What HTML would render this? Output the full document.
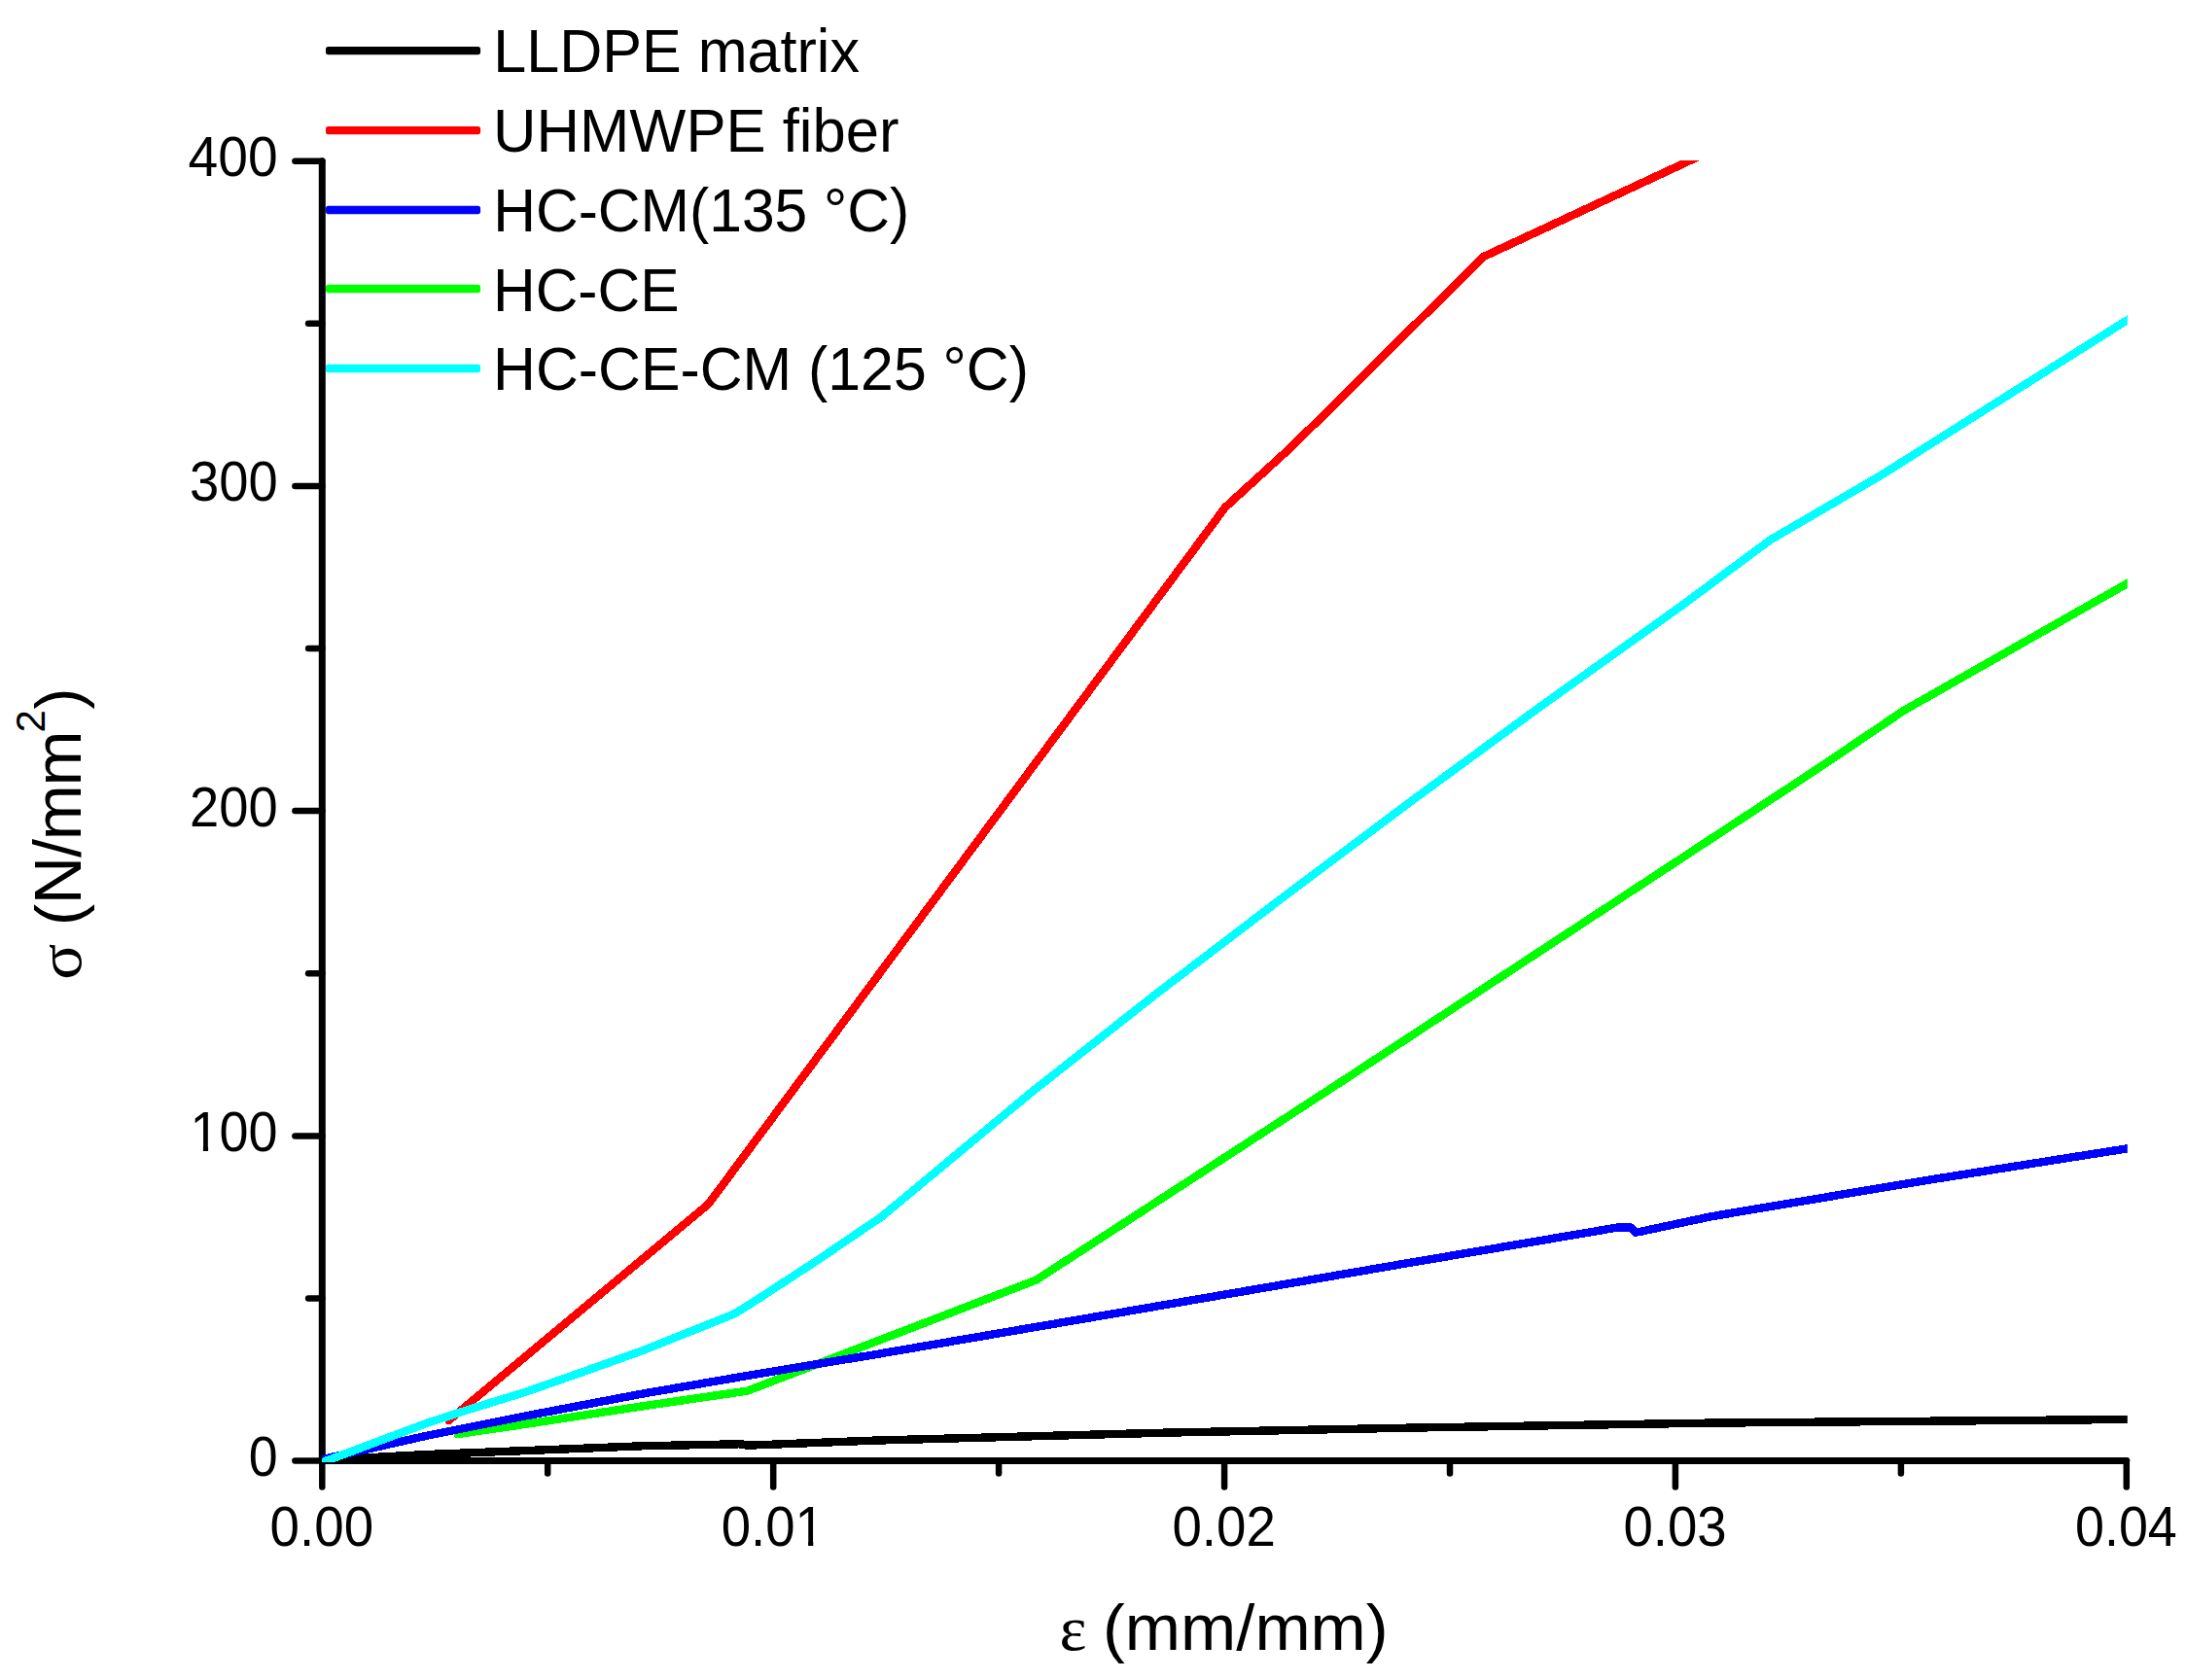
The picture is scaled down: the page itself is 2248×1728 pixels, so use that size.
<!DOCTYPE html>
<html lang="en"><head><meta charset="utf-8"><title>Stress-strain curves</title>
<style>
html,body{margin:0;padding:0;background:#fff;}
body{width:2248px;height:1728px;overflow:hidden;}
svg{display:block;}
text{font-family:"Liberation Sans",sans-serif;fill:#000;font-kerning:none;}
.sym{font-family:"Liberation Serif","DejaVu Serif",serif;}
.tk{font-size:56.5px;}
.lg{font-size:62.3px;}
.ti{font-size:66.5px;}
.su{font-size:42px;}
.sg{font-size:62.5px;}
.ti2{font-size:69.4px;}
</style></head><body>
<svg width="2248" height="1728" viewBox="0 0 2248 1728">
<rect x="0" y="0" width="2248" height="1728" fill="#ffffff"/>
<defs><clipPath id="plot"><rect x="331.0" y="165.1" width="1856.8" height="1339.0"/></clipPath></defs>
<g stroke="#000" fill="none" stroke-linecap="round" stroke-linejoin="round">
<polyline stroke-width="7" points="331.3,165.7 331.3,1502.6"/>
<polyline stroke-width="7" points="331.3,1502.6 2186.8,1502.6"/>
<g stroke-width="6.5">
<line x1="303.4" y1="1502.6" x2="331.3" y2="1502.6"/>
<line x1="317.1" y1="1335.5" x2="331.3" y2="1335.5"/>
<line x1="303.4" y1="1168.4" x2="331.3" y2="1168.4"/>
<line x1="317.1" y1="1001.3" x2="331.3" y2="1001.3"/>
<line x1="303.4" y1="834.1" x2="331.3" y2="834.1"/>
<line x1="317.1" y1="667.0" x2="331.3" y2="667.0"/>
<line x1="303.4" y1="499.9" x2="331.3" y2="499.9"/>
<line x1="317.1" y1="332.8" x2="331.3" y2="332.8"/>
<line x1="303.4" y1="165.7" x2="331.3" y2="165.7"/>
<line x1="331.3" y1="1502.6" x2="331.3" y2="1529.5"/>
<line x1="563.2" y1="1502.6" x2="563.2" y2="1515.5"/>
<line x1="795.2" y1="1502.6" x2="795.2" y2="1529.5"/>
<line x1="1027.1" y1="1502.6" x2="1027.1" y2="1515.5"/>
<line x1="1259.1" y1="1502.6" x2="1259.1" y2="1529.5"/>
<line x1="1491.0" y1="1502.6" x2="1491.0" y2="1515.5"/>
<line x1="1722.9" y1="1502.6" x2="1722.9" y2="1529.5"/>
<line x1="1954.9" y1="1502.6" x2="1954.9" y2="1515.5"/>
<line x1="2186.8" y1="1502.6" x2="2186.8" y2="1529.5"/>
</g></g>
<g clip-path="url(#plot)" fill="none" stroke-width="8.4" stroke-linejoin="round" stroke-linecap="round" shape-rendering="crispEdges">
<polyline stroke="#000000" points="331.3,1502.4 367.8,1499.8 440.0,1496.0 540.0,1492.1 660.0,1487.3 760.0,1485.3 764.0,1485.6 768.0,1486.7 900.0,1481.6 1200.0,1473.6 1456.2,1468.5 1760.0,1463.6 2187.9,1460.0 2192.0,1460.0"/>
<polyline stroke="#ff0000" points="461.5,1461.0 728.6,1238.4 1259.8,522.0 1325.0,462.5 1383.8,405.0 1440.0,348.8 1525.7,264.0 1738.0,165.1 1790.0,140.9"/>
<polyline stroke="#00ff00" points="470.7,1475.0 540.0,1464.9 660.0,1446.5 768.7,1430.6 900.0,1380.2 1065.8,1316.5 1140.0,1268.3 1380.0,1112.2 1620.0,954.6 1860.0,796.8 1900.0,769.9 1957.6,731.0 2187.8,600.0 2192.0,597.6"/>
<polyline stroke="#0000ff" points="331.0,1501.1 440.0,1476.5 540.0,1456.5 660.0,1433.7 780.8,1412.9 900.0,1393.2 1140.0,1352.1 1440.0,1300.5 1659.6,1263.2 1664.0,1262.5 1677.2,1262.5 1681.5,1267.6 1686.0,1267.0 1760.0,1251.2 1980.0,1214.2 2187.9,1181.3 2192.0,1180.6"/>
<polyline stroke="#00ffff" points="331.0,1504.3 440.0,1463.4 480.0,1450.5 540.0,1431.9 598.3,1411.5 660.0,1389.5 754.8,1351.6 773.6,1340.0 840.0,1296.7 907.0,1251.2 1060.0,1124.0 1190.0,1021.5 1320.0,922.5 1450.0,825.0 1580.0,729.7 1730.0,622.5 1820.4,555.4 1935.0,488.5 2187.7,329.1 2192.0,326.4"/>
</g>
<rect x="335" y="47.90" width="159.1" height="8.3" rx="2.6" ry="2.6" fill="#000000"/>
<rect x="335" y="129.90" width="159.1" height="8.3" rx="2.6" ry="2.6" fill="#ff0000"/>
<rect x="335" y="211.85" width="159.1" height="8.3" rx="2.6" ry="2.6" fill="#0000ff"/>
<rect x="335" y="292.85" width="159.1" height="8.3" rx="2.6" ry="2.6" fill="#00ff00"/>
<rect x="335" y="374.85" width="159.1" height="8.3" rx="2.6" ry="2.6" fill="#00ffff"/>
<text class="lg" text-anchor="start" transform="translate(507.30,74.00) scale(0.9803,1)">LLDPE matrix</text>
<text class="lg" text-anchor="start" transform="translate(507.00,156.00) scale(0.9888,1)">UHMWPE fiber</text>
<text class="lg" text-anchor="start" transform="translate(507.20,237.80) scale(0.9723,1)">HC-CM(135 °C)</text>
<text class="lg" text-anchor="start" transform="translate(507.00,319.80) scale(0.9710,1)">HC-CE</text>
<text class="lg" text-anchor="start" transform="translate(507.00,401.00) scale(0.9757,1)">HC-CE-CM (125 °C)</text>
<text class="tk" transform="translate(255.71,1518.00) scale(0.9514,1)">0</text>
<defs><clipPath id="c100"><path clip-rule="evenodd" d="M-6,-64H100.27V6H-6ZM3.10,-5.22H14.01V4H3.10ZM19.40,-5.22H29.86V4H19.40Z"/></clipPath></defs>
<text class="tk" clip-path="url(#c100)" transform="translate(195.54,1183.78) scale(0.9553,1)">100</text>
<text class="tk" transform="translate(194.98,849.55) scale(0.9613,1)">200</text>
<text class="tk" transform="translate(194.98,515.32) scale(0.9613,1)">300</text>
<text class="tk" transform="translate(193.58,181.10) scale(0.9761,1)">400</text>
<text class="tk" transform="translate(277.61,1590.00) scale(0.9692,1)">0.00</text>
<defs><clipPath id="c0_01"><path clip-rule="evenodd" d="M-6,-64H115.97V6H-6ZM81.65,-5.22H92.55V4H81.65ZM97.94,-5.22H108.41V4H97.94Z"/></clipPath></defs>
<text class="tk" clip-path="url(#c0_01)" transform="translate(741.65,1590.00) scale(0.9662,1)">0.01</text>
<text class="tk" transform="translate(1205.42,1590.00) scale(0.9682,1)">0.02</text>
<text class="tk" transform="translate(1669.40,1590.00) scale(0.9662,1)">0.03</text>
<text class="tk" transform="translate(2133.98,1590.00) scale(0.9533,1)">0.04</text>
<text class="ti sym" text-anchor="start" transform="translate(1089.50,1696.50) scale(1.0000,1)">ε</text>
<text class="ti" text-anchor="start" transform="translate(1134.00,1696.50) scale(1.0330,1)">(mm/mm)</text>
<text class="sg sym" transform="translate(83.20,1007.80) rotate(-90) scale(1.1000,1)">σ</text>
<text class="ti" transform="translate(83.20,952.00) rotate(-90) scale(1.0000,1)">(</text>
<text class="ti2" transform="translate(83.20,930.20) rotate(-90) scale(0.9870,1)" letter-spacing="-1.3">N/mm</text>
<text class="su" transform="translate(46.00,753.40) rotate(-90) scale(1.0000,1)">2</text>
<text class="ti" transform="translate(83.20,729.80) rotate(-90) scale(1.0000,1)">)</text>
</svg>
</body></html>
